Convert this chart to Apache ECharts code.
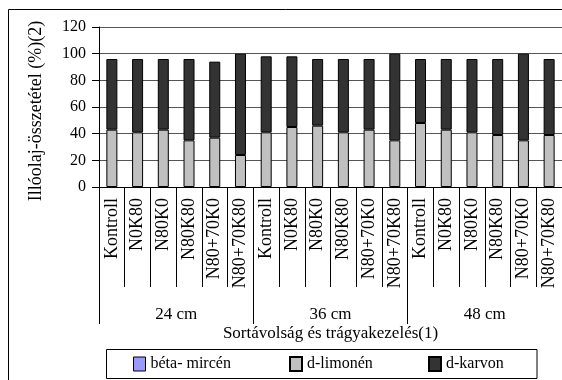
<!DOCTYPE html>
<html><head><meta charset="utf-8">
<script src="https://cdn.jsdelivr.net/npm/echarts@6/dist/echarts.min.js"></script>
<style>html,body{margin:0;padding:0;background:#fff}#c{width:562px;height:380px}</style>
</head><body><div id="c"></div>
<script>
var categories = ['Kontroll','N0K80','N80K0','N80K80','N80+70K0','N80+70K80',
                  'Kontroll','N0K80','N80K0','N80K80','N80+70K0','N80+70K80',
                  'Kontroll','N0K80','N80K0','N80K80','N80+70K0','N80+70K80'];
var groups = ['24 cm','36 cm','48 cm'];
var betaMircen = [0,0,0,0,0,0, 0,0,0,0,0,0, 0,0,0,0,0,0];
var dLimonen = [43,41,43,35,37,24, 41,45,46,41,43,35, 48,43,41,39,35,39];
var dKarvon  = [53,55,53,61,57,76, 57,53,50,55,53,65, 48,53,55,57,65,57];
var yTicks = [0,20,40,60,80,100,120];
var yTitle = 'Illóolaj-összetétel (%)(2)';
var xTitle = 'Sortávolság és trágyakezelés(1)';

var FONT = '"Liberation Serif", "Times New Roman", serif';
var chart = echarts.init(document.getElementById('c'), null, {renderer:'canvas'});
function ser(name, data, color, bw){
  return {name:name, type:'bar', stack:'s', data:data, barWidth:11,
    itemStyle:{color:color, borderColor:'#000', borderWidth:bw}, xAxisIndex:0};
}
var legendBase = {orient:'horizontal', top:356, itemWidth:12, itemHeight:14, itemGap:5, padding:0, icon:'rect',
  textStyle:{fontFamily:FONT, fontSize:16, color:'#000'}, selectedMode:false};
chart.setOption({
  animation:false,
  backgroundColor:'#fff',
  grid:{left:99, top:27, width:463.5, height:160, containLabel:false},
  xAxis:[
    {type:'category', data:categories, position:'bottom',
     axisLine:{lineStyle:{color:'#000', width:1}},
     axisTick:{show:true, interval:0, length:100, lineStyle:{color:'#000'}},
     axisLabel:{interval:0, rotate:90, margin:11, fontFamily:FONT, fontSize:18, color:'#000'}},
    {type:'category', data:groups, position:'bottom',
     axisLine:{show:false},
     axisTick:{show:true, interval:0, length:137, lineStyle:{color:'#000'}},
     axisLabel:{interval:0, margin:119, fontFamily:FONT, fontSize:17, color:'#000'},
     name:xTitle, nameLocation:'middle', nameGap:138,
     nameTextStyle:{fontFamily:FONT, fontSize:17, color:'#000'}}
  ],
  yAxis:{type:'value', min:0, max:120, interval:20,
    axisLine:{show:true, lineStyle:{color:'#000'}},
    axisTick:{show:true, length:7, lineStyle:{color:'#000'}},
    axisLabel:{margin:13, fontFamily:FONT, fontSize:16, color:'#000',
      formatter:function(v){return yTicks.indexOf(v)>=0?String(v):'';}},
    splitLine:{show:true, lineStyle:{color:'#555', width:1}}},
  legend:[
    Object.assign({left:133, data:[{name:'béta- mircén', itemStyle:{borderColor:'#000', borderWidth:1}}]}, legendBase),
    Object.assign({left:289, data:['d-limonén']}, legendBase),
    Object.assign({left:428, data:['d-karvon']}, legendBase)
  ],
  graphic:[
    {type:'rect', shape:{x:8.5, y:9.5, width:600, height:400}, style:{fill:'none', stroke:'#000', lineWidth:1}, silent:true},
    {type:'rect', shape:{x:106.5, y:349.5, width:430.5, height:29}, style:{fill:'none', stroke:'#000', lineWidth:1}, silent:true},
    {type:'text', x:36, y:111, rotation:Math.PI/2, silent:true,
     style:{text:yTitle, font:'18px ' + FONT, fill:'#000', align:'center', verticalAlign:'middle'}}
  ],
  series:[
    ser('béta- mircén', betaMircen, '#9999ff', 0),
    ser('d-limonén', dLimonen, '#c0c0c0', 1),
    ser('d-karvon', dKarvon, '#333333', 1)
  ]
});
</script></body></html>
